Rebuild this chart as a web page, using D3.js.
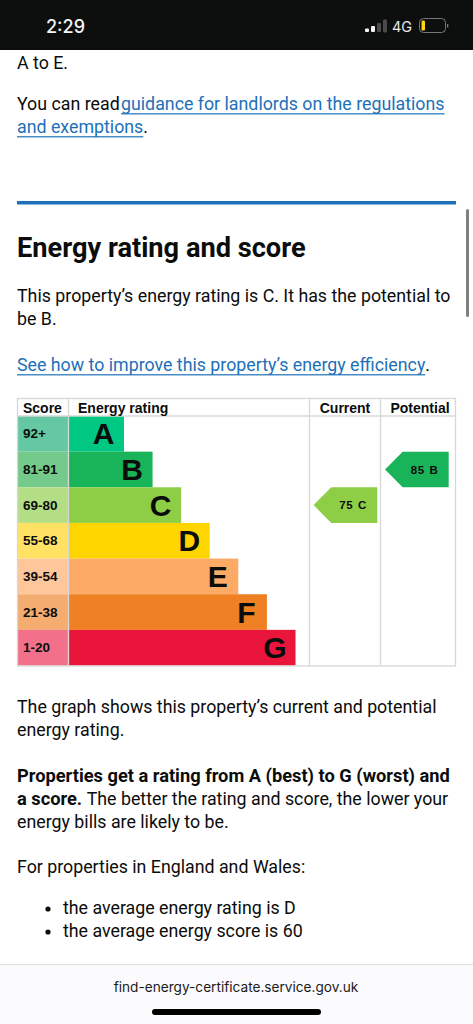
<!DOCTYPE html>
<html><head><meta charset="utf-8">
<script src="https://cdn.jsdelivr.net/npm/d3@7"></script>
<style>html,body{margin:0;padding:0;background:#fff;overflow:hidden}svg{display:block}</style>
</head><body><svg id="c" width="473" height="1024" viewBox="0 0 473 1024"></svg>
<script>
const ratings = ["A","B","C","D","E","F","G"];
const scoreBands = ["92+","81-91","69-80","55-68","39-54","21-38","1-20"];
const barLengths = [2,3,4,5,6,7,8];
const barColours = ["#00c781","#19b459","#8dce46","#ffd500","#fcaa65","#ef8023","#e9153b"];
const tintColours = ["#64c8a2","#74ca8b","#b4de86","#ffe264","#fec79b","#f4ac70","#f3708a"];
const columnHeads = ["Score","Energy rating","Current","Potential"];
const pointers = [{label:"Current",score:75,rating:"C"},{label:"Potential",score:85,rating:"B"}];

const bodyFont = "Roboto, 'Noto Sans', sans-serif";
const chartFont = "'Liberation Sans', Arial, sans-serif";
const svg = d3.select("#c");
const y = d3.scaleBand().domain(ratings).range([416,665.5]);
const x = d3.scaleLinear().domain([0,8]).range([66.8,295.5]);
const pointerCol = d3.scaleOrdinal().domain(["Current","Potential"]).range([377.3,448.7]);
const colour = d3.scaleOrdinal().domain(ratings).range(barColours);
const tint = d3.scaleOrdinal().domain(ratings).range(tintColours);
const bandOf = d3.scaleOrdinal().domain(ratings).range(scoreBands);
const lenOf = d3.scaleOrdinal().domain(ratings).range(barLengths);
const left = 17;
const SZ = 17.8, SZB = 18.25;

function text(s,xx,yy,o={}){
  return svg.append("text").attr("x",xx).attr("y",yy).text(s)
    .attr("font-family",o.font||bodyFont).attr("font-size",o.size||SZ)
    .attr("font-weight",o.weight||400).attr("fill",o.fill||"#0b0c0c")
    .attr("text-anchor",o.anchor||"start");
}
function link(s,xx,yy){
  const t=text(s,xx,yy,{fill:"#1d70b8"});
  const w=t.node().getComputedTextLength();
  svg.append("rect").attr("x",xx).attr("y",yy+3.2).attr("width",w).attr("height",1.2).attr("fill","#1d70b8");
  return xx+w;
}
// status bar
svg.append("rect").attr("width",473).attr("height",50).attr("fill","#0d0f0f");
text("2:29",46,33,{fill:"#f4f4f4",size:18,weight:500,font:"Inter, sans-serif"});
[[365,28.5,3.5],[371,26,6],[377,23,9],[383,19.5,13]].forEach((b,i)=>svg.append("rect").attr("x",b[0]).attr("y",b[1]).attr("width",4).attr("height",b[2]).attr("rx",1).attr("fill",i<2?"#f4f4f4":"#4a4a4a"));
text("4G",392,32,{fill:"#e8e8e8",size:14.5,font:"Inter, sans-serif"});
svg.append("rect").attr("x",419.5).attr("y",18.5).attr("width",26).attr("height",14).attr("rx",4).attr("fill","none").attr("stroke","#777");
svg.append("rect").attr("x",421.5).attr("y",20.5).attr("width",3.5).attr("height",10).attr("rx",1.3).attr("fill","#ffd60a");
svg.append("rect").attr("x",447).attr("y",24).attr("width",1.3).attr("height",3.5).attr("fill","#777");

// copy above the chart
text("A to E.",left,69);
text("You can read ",left,110);
link("guidance for landlords on the regulations",121,110);
text(".",link("and exemptions",left,133),133);
svg.append("rect").attr("x",left).attr("y",201).attr("width",439).attr("height",3.5).attr("fill","#1d70b8");
svg.append("rect").attr("x",466).attr("y",209).attr("width",3).attr("height",108).attr("rx",1.5).attr("fill","#7f7f7f");
text("Energy rating and score",left,257,{size:27.2,weight:700});
text("This property’s energy rating is C. It has the potential to",left,302);
text("be B.",left,325);
text(".",link("See how to improve this property’s energy efficiency",left,371),371);

// chart: score tints, bars, grid, labels
const rows = svg.append("g").selectAll("g").data(ratings).join("g");
rows.append("rect").attr("x",17.5).attr("width",51).attr("y",d=>y(d)).attr("height",y.bandwidth())
  .attr("fill",d=>tint(d));
rows.append("rect").attr("x",68.5).attr("width",d=>x(lenOf(d))-68.5).attr("y",d=>y(d)).attr("height",y.bandwidth())
  .attr("fill",d=>colour(d));
rows.append("text").attr("x",23).attr("y",d=>y(d)+y.bandwidth()/2+4.6).text(d=>bandOf(d))
  .attr("font-family",chartFont).attr("font-weight",700).attr("font-size",13.5).attr("fill","#0b0c0c");
rows.append("text").attr("x",d=>x(lenOf(d))-20.5).attr("y",d=>y(d)+y.bandwidth()/2+10.5).text(d=>d)
  .attr("text-anchor","middle").attr("font-family",chartFont).attr("font-weight",700).attr("font-size",30).attr("fill","#0b0c0c");

const gridC="#d8d8d8";
const grid=svg.append("g").attr("stroke",gridC).attr("stroke-width",1.3).attr("fill","none");
grid.append("rect").attr("x",17.5).attr("y",398.5).attr("width",438).attr("height",267.5);
grid.append("line").attr("x1",17.5).attr("x2",455.5).attr("y1",416).attr("y2",416);
[68.5,309.5,380.5].forEach(v=>grid.append("line").attr("x1",v).attr("x2",v).attr("y1",398.5).attr("y2",666));

[[columnHeads[0],23,"start"],[columnHeads[1],78,"start"],[columnHeads[2],345,"middle"],[columnHeads[3],420,"middle"]]
 .forEach(h=>text(h[0],h[1],413,{font:chartFont,size:14,weight:700,anchor:h[2]}));

const ptr=svg.append("g").selectAll("g").data(pointers).join("g");
ptr.append("path").attr("d",d=>{
  const r=pointerCol(d.label),t=y(d.rating),b=t+y.bandwidth(),m=t+y.bandwidth()/2;
  return d3.line()([[r,t],[r-46,t],[r-63.7,m],[r-46,b],[r,b]])+"Z";
}).attr("fill",d=>colour(d.rating));
ptr.append("text").attr("x",d=>pointerCol(d.label)-38).attr("y",d=>y(d.rating)+y.bandwidth()/2+4.2)
  .text(d=>d.score).attr("font-family",chartFont).attr("font-weight",700).attr("font-size",11.5).attr("letter-spacing",.6).attr("fill","#0b0c0c");
ptr.append("text").attr("x",d=>pointerCol(d.label)-11).attr("y",d=>y(d.rating)+y.bandwidth()/2+4.2).attr("text-anchor","end")
  .text(d=>d.rating).attr("font-family",chartFont).attr("font-weight",700).attr("font-size",11.5).attr("fill","#0b0c0c");

// copy below the chart
text("The graph shows this property’s current and potential",left,713);
text("energy rating.",left,736);
text("Properties get a rating from A (best) to G (worst) and",left,782,{weight:700,size:SZB});
const bold=text("a score.",left,805,{weight:700,size:SZB});
text("The better the rating and score, the lower your",left+bold.node().getComputedTextLength()+4.5,805);
text("energy bills are likely to be.",left,828);
text("For properties in England and Wales:",left,873);
["the average energy rating is D","the average energy score is 60"].forEach((s,i)=>{
  svg.append("circle").attr("cx",48).attr("cy",909+i*23).attr("r",2.6).attr("fill","#0b0c0c");
  text(s,63,914+i*23);
});

// browser bar
svg.append("rect").attr("y",965).attr("width",473).attr("height",59).attr("fill","#fbfbfd");
svg.append("rect").attr("y",964).attr("width",473).attr("height",1).attr("fill","#dcdcdc");
text("find-energy-certificate.service.gov.uk",236,992,{size:13.65,anchor:"middle",fill:"#1a1a1a",font:"Inter, sans-serif"});
svg.append("rect").attr("x",152).attr("y",1009).attr("width",169).attr("height",6).attr("rx",3).attr("fill","#000");
</script></body></html>
